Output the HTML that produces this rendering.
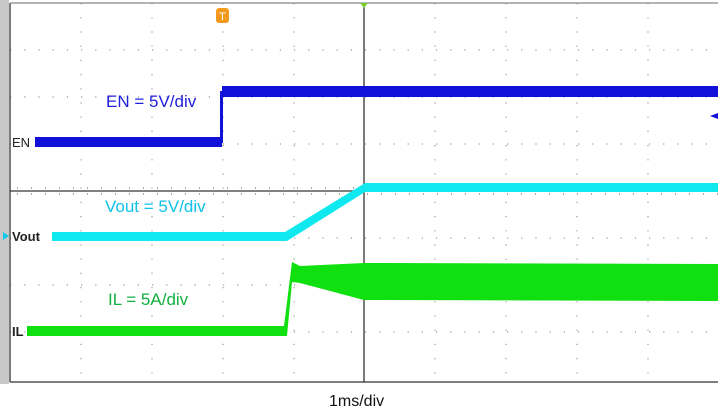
<!DOCTYPE html>
<html><head><style>
body{margin:0;background:#fff;width:718px;height:415px;overflow:hidden;font-family:"Liberation Sans",sans-serif;}
</style></head><body>
<svg width="718" height="415" xmlns="http://www.w3.org/2000/svg">
<rect x="0" y="0" width="9" height="384" fill="#c8c8c8"/>
<g stroke="#999" stroke-width="1.2" stroke-dasharray="1.2,13" fill="none">
<line x1="81" y1="3" x2="81" y2="382"/><line x1="152" y1="3" x2="152" y2="382"/>
<line x1="223" y1="3" x2="223" y2="382"/><line x1="294" y1="3" x2="294" y2="382"/>
<line x1="435" y1="3" x2="435" y2="382"/><line x1="506" y1="3" x2="506" y2="382"/>
<line x1="577" y1="3" x2="577" y2="382"/><line x1="648" y1="3" x2="648" y2="382"/>
<line x1="10" y1="50" x2="718" y2="50"/><line x1="10" y1="97" x2="718" y2="97"/>
<line x1="10" y1="144" x2="718" y2="144"/><line x1="10" y1="238" x2="718" y2="238"/>
<line x1="10" y1="285" x2="718" y2="285"/><line x1="10" y1="332" x2="718" y2="332"/>
</g>
<g stroke="#333" stroke-width="1.3">
<line x1="10" y1="191" x2="718" y2="191"/><line x1="364" y1="3" x2="364" y2="382"/>
<line x1="10" y1="3" x2="10" y2="382"/><line x1="10" y1="382" x2="718" y2="382"/>
<line x1="10" y1="3" x2="718" y2="3" stroke="#888"/>
</g>
<g stroke="#555" stroke-width="1" stroke-dasharray="1,13" stroke-dashoffset="-7">
<line x1="10" y1="194" x2="718" y2="194"/><line x1="10" y1="188" x2="718" y2="188"/>
</g>
<!-- EN -->
<rect x="35" y="137" width="187" height="10" fill="#1010d8"/>
<rect x="220" y="91" width="3" height="52" fill="#1010d8"/>
<rect x="222" y="86" width="496" height="11" fill="#1010d8"/>
<!-- Vout -->
<polygon points="52,232 285,232 365,183 718,183 718,192 365,192 287,241 52,241" fill="#10e8f0"/>
<!-- IL -->
<polygon points="27,326 284,326 292,262 300,266 364,263 718,264 718,301 364,300 300,283 292,282 287,336 27,336" fill="#10e010"/>
<!-- markers -->
<rect x="216" y="8" width="13" height="15" rx="3" fill="#f29a1e"/>
<text x="222.5" y="20" font-size="11" fill="#fff" text-anchor="middle">T</text>
<polygon points="360,3 368,3 364,8" fill="#7c3"/>
<polygon points="718,113 710,116 718,119" fill="#1010d8"/>
<polygon points="9,236 3,232 3,240" fill="#10c8e8"/>
<text x="12" y="147" font-size="13" fill="#222">EN</text>
<text x="12" y="241" font-size="13" font-weight="bold" fill="#222">Vout</text>
<text x="12" y="336" font-size="13" font-weight="bold" fill="#222">IL</text>
<text x="106" y="107" font-size="17" fill="#2020e0">EN = 5V/div</text>
<text x="105" y="212" font-size="17" fill="#10c0e8">Vout = 5V/div</text>
<text x="108" y="305" font-size="17" fill="#10b040">IL = 5A/div</text>
<text x="329" y="406" font-size="16" fill="#111">1ms/div</text>
</svg>
</body></html>
